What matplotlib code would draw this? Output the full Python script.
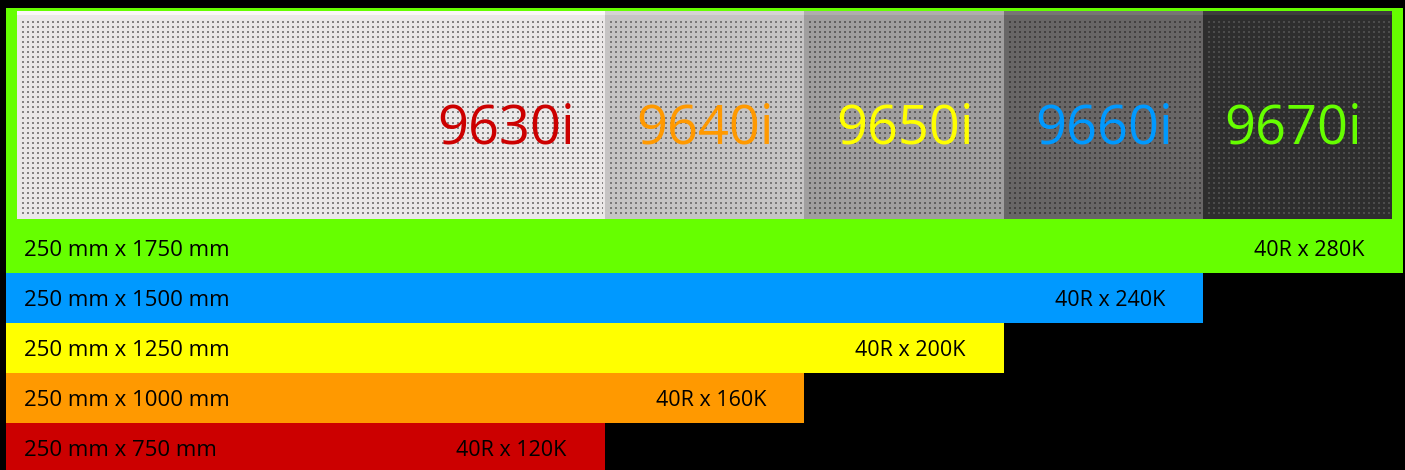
import numpy as np
import matplotlib
matplotlib.use('Agg')
import matplotlib.pyplot as plt
from matplotlib.patches import Rectangle

plt.rcParams['font.family'] = ['Open Sans', 'DejaVu Sans']

# panel lengths (mm), bottom bar first
lengths_mm = [750, 1000, 1250, 1500, 1750]
size_labels = ['250 mm x 750 mm', '250 mm x 1000 mm', '250 mm x 1250 mm',
               '250 mm x 1500 mm', '250 mm x 1750 mm']
hole_labels = ['40R x 120K', '40R x 160K', '40R x 200K', '40R x 240K', '40R x 280K']
models = ['9630i', '9640i', '9650i', '9660i', '9670i']
bar_colors = ['#cc0000', '#ff9900', '#ffff00', '#0099ff', '#66ff00']
panel_bg = ['#ebe8e8', '#c6c4c4', '#a09e9e', '#686666', '#2e2e2e']
panel_dot = ['#858383', '#7a7878', '#626060', '#434141', '#4c4c4c']

W, H = 1405, 470
fig = plt.figure(figsize=(W / 100, H / 100), dpi=100, facecolor='black')
ax = fig.add_axes([0, 0, 1, 1])
ax.set_facecolor('black')

px = 0.798  # pixels per mm
x_left = -6 / px
ax.set_xlim(x_left, (W - 6) / px)
row_px = 50.0
# y in row units; row i spans i-0.5 .. i+0.5, red row bottom near image bottom
ax.set_ylim(-0.45, -0.45 + H / row_px)
ax.axis('off')

def ypix(p):
    # pixel row from top -> data y
    return -0.45 + (H - p) / row_px

n = len(lengths_mm)
rows = np.arange(n)
ax.barh(rows, lengths_mm, height=1.0, left=0, color=bar_colors, edgecolor='none', zorder=2)

# green frame around the panels
top_len = lengths_mm[-1]
ax.add_patch(Rectangle((0, rows[-1] + 0.5), top_len, ypix(8) - (rows[-1] + 0.5),
                       facecolor=bar_colors[-1], edgecolor='none', zorder=2))

# perforated panels
py0, py1 = ypix(219), ypix(12)
frame_in = 11 / px
starts = [frame_in] + lengths_mm[:-1]
ends = lengths_mm[:-1] + [top_len - 11 / px]
for i in range(n):
    x0, x1 = starts[i], ends[i]
    nx = int(round((x1 - x0) * px))
    ny = 207
    img = np.empty((ny, nx, 3))
    bg = np.array(matplotlib.colors.to_rgb(panel_bg[i]))
    dt = np.array(matplotlib.colors.to_rgb(panel_dot[i]))
    img[:] = bg
    yy, xx = np.mgrid[0:ny, 0:nx]
    mask = ((yy % 5) < 2) & ((xx % 5) < 2) & (yy > 6) & (yy < ny - 4) & (xx > 2) & (xx < nx - 2)
    img[mask] = dt
    # light strip along the top edge
    img[0:4] = np.clip(bg + 0.06, 0, 1)
    ax.imshow(img, extent=(x0, x1, py0, py1), aspect='auto',
              interpolation='nearest', zorder=3)
    ax.text(x1 - 30 / px, ypix(129), models[i], color=bar_colors[i],
            fontsize=39, ha='right', va='center', zorder=4)

shift = 2.5 / row_px  # labels sit a bit low in each bar
for i in range(n):
    ax.text(18 / px, rows[i] - shift, size_labels[i], fontsize=16, color='black',
            ha='left', va='center', zorder=4)
    ax.text(lengths_mm[i] - 38 / px, rows[i] - shift, hole_labels[i], fontsize=15.5,
            color='black', ha='right', va='center', zorder=4)

fig.savefig('out.png', dpi=100, facecolor='black')
